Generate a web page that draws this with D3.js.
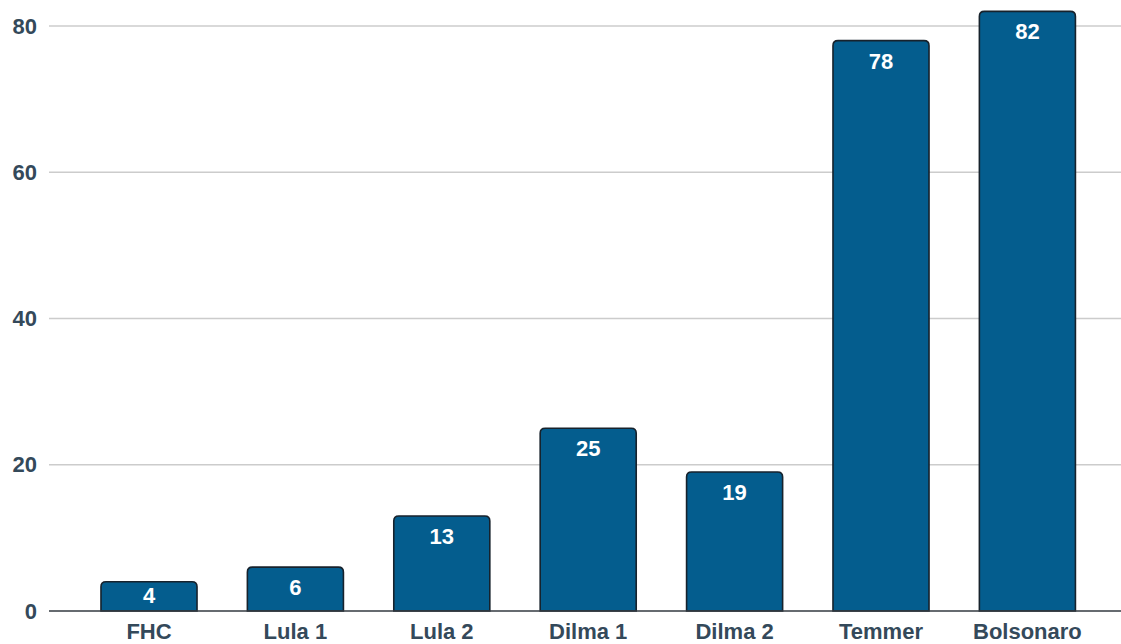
<!DOCTYPE html>
<html>
<head>
<meta charset="utf-8">
<script src="https://cdn.jsdelivr.net/npm/d3@7"></script>
<style>
  html, body { margin: 0; padding: 0; background: #fff; }
  svg { display: block; font-family: "Liberation Sans", Arial, Helvetica, sans-serif; }
</style>
</head>
<body>
<svg id="chart" width="1121" height="644"></svg>
<script>
const categories = ["FHC", "Lula 1", "Lula 2", "Dilma 1", "Dilma 2", "Temmer", "Bolsonaro"];
const values = [4, 6, 13, 25, 19, 78, 82];
const yTicks = [0, 20, 40, 60, 80];

const svg = d3.select("#chart");
const labelFont = "'Liberation Sans', Arial, Helvetica, sans-serif";
const labelColor = "#34495a";

const x = d3.scaleBand()
  .domain(categories)
  .range([75.8, 1100.6])
  .paddingInner(0.344)
  .paddingOuter(0.172);

const y = d3.scaleLinear()
  .domain([0, 80])
  .range([611, 26]);

const gridLeft = 49, gridRight = 1121;

// horizontal gridlines
svg.append("g")
  .selectAll("line")
  .data(yTicks.filter(d => d !== 0))
  .join("line")
  .attr("x1", gridLeft).attr("x2", gridRight)
  .attr("y1", d => y(d)).attr("y2", d => y(d))
  .attr("stroke", "#cccccc")
  .attr("stroke-width", 1.3);

// y axis labels
const yAxis = d3.axisLeft(y).tickValues(yTicks).tickSize(0).tickPadding(0);
const gy = svg.append("g").attr("transform", "translate(37,0)").call(yAxis);
gy.select(".domain").remove();
gy.selectAll("text")
  .attr("font-size", 22)
  .attr("font-weight", 700)
  .attr("fill", labelColor)
  .attr("font-family", labelFont);

// bars with rounded top corners
const r = 5;
function barPath(d, i) {
  const x0 = x(categories[i]), w = x.bandwidth();
  const top = y(d), base = y(0);
  return `M${x0},${base} V${top + r} Q${x0},${top} ${x0 + r},${top} H${x0 + w - r} Q${x0 + w},${top} ${x0 + w},${top + r} V${base} Z`;
}

svg.append("g")
  .selectAll("path")
  .data(values)
  .join("path")
  .attr("d", barPath)
  .attr("fill", "#045d8e")
  .attr("stroke", "#17222c")
  .attr("stroke-width", 1.6);

// baseline
svg.append("line")
  .attr("x1", gridLeft).attr("x2", gridRight)
  .attr("y1", y(0)).attr("y2", y(0))
  .attr("stroke", "#333a40")
  .attr("stroke-width", 1.6);

// value labels inside bars (kept inside short bars)
svg.append("g")
  .selectAll("text")
  .data(values)
  .join("text")
  .attr("x", (d, i) => x(categories[i]) + x.bandwidth() / 2)
  .attr("y", d => Math.min(y(d) + 28, y(0) - 8))
  .attr("text-anchor", "middle")
  .attr("font-size", 22)
  .attr("font-weight", 700)
  .attr("font-family", labelFont)
  .attr("fill", "#ffffff")
  .text(d => d);

// x axis labels
const xAxis = d3.axisBottom(x).tickSize(0).tickPadding(0);
const gx = svg.append("g").attr("transform", "translate(0,639)").call(xAxis);
gx.select(".domain").remove();
gx.selectAll("text")
  .attr("dy", 0)
  .attr("font-size", 22)
  .attr("font-weight", 700)
  .attr("fill", labelColor)
  .attr("font-family", labelFont);
</script>
</body>
</html>
